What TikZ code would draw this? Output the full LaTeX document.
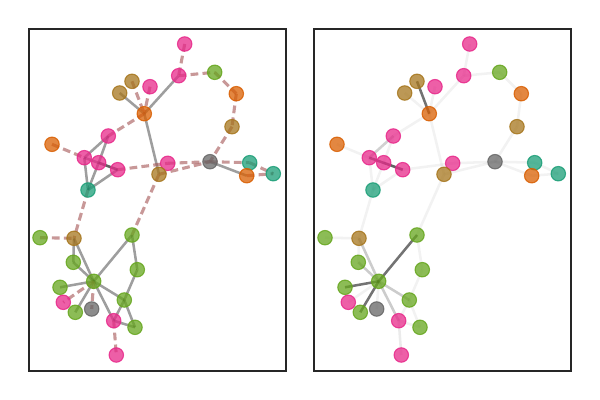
\documentclass[tikz,border=0pt]{standalone}
\usetikzlibrary{backgrounds}
\definecolor{dteal}{HTML}{1B9E77}
\definecolor{dorange}{HTML}{D95F02}
\definecolor{dpink}{HTML}{E7298A}
\definecolor{dgreen}{HTML}{66A61E}
\definecolor{dtan}{HTML}{A6761D}
\definecolor{dgray}{HTML}{666666}
\definecolor{bondred}{rgb}{0.65,0.35,0.35}
\tikzset{
  atom/.style={circle, inner sep=0pt, minimum size=0.36cm, line width=0.8pt,
    draw=#1, fill=#1, fill opacity=0.75, draw opacity=0.85},
  solidedge/.style={black, opacity=0.38, line width=1.8pt},
  dashedge/.style={bondred, opacity=0.62, line width=2.2pt, dash pattern=on 5.5pt off 3pt},
  weight/.style={black, opacity=#1, line width=1.8pt},
  panelbox/.style={draw=black!85, line width=1.8pt}
}
\begin{document}
\begin{tikzpicture}[x=0.025cm, y=-0.025cm]
    \useasboundingbox (0,0) rectangle (600,400);
    % The two panels.
        \draw[panelbox] (29,29) rectangle (286,371);
        \draw[panelbox] (314,29) rectangle (571,371);
    % Below nodes are the atoms, same layout in both panels.
    \foreach \p/\dx in {l/0, r/285} {
        \foreach \n/\x/\y/\c in {A/184.7/44/dpink, B/178.7/75.7/dpink, C/214.7/72.3/dgreen,
            D/236.3/93.7/dorange, E/232/126.7/dtan, F/210/161.7/dgray, G/249.7/162.7/dteal,
            H/246.7/175.7/dorange, I/273.3/173.7/dteal, J/132/81.3/dtan, K/119.7/93/dtan,
            L/150/86.7/dpink, M/144.3/113.7/dorange, N/108.3/136/dpink, O/52/144.3/dorange,
            P/84.3/157.7/dpink, Q/98.7/162.7/dpink, R/117.7/169.7/dpink, S/88/190/dteal,
            T/167.7/163.3/dpink, U/159/174.3/dtan, V/40/237.7/dgreen, W/74/238.3/dtan,
            X/132/235/dgreen, Y/73.3/262.3/dgreen, Z/93.7/281.3/dgreen, AA/137.3/269.7/dgreen,
            AB/60/287.3/dgreen, AC/63.3/302.3/dpink, AD/75.3/312.3/dgreen, AE/91.7/309/dgray,
            AF/124.3/300/dgreen, AG/113.7/320.7/dpink, AH/135/327.3/dgreen, AI/116.3/355/dpink}
            \node[atom=\c] (\p\n) at (\x+\dx, \y) {};
    }
    \begin{pgfonlayer}{background}
    % Left panel: bonds solid, added links dashed.
        \foreach \a/\b in {M/B, M/K, M/U, N/P, N/Q, Q/S, P/S, S/R, P/R, Q/R, F/H,
            W/Y, W/Z, Y/Z, X/Z, X/AA, AA/AF, Z/AB, Z/AD, Z/AF, Z/AG, AF/AG, AF/AH, AG/AH}
            \draw[solidedge] (l\a.center) -- (l\b.center);
        \foreach \a/\b in {A/B, B/C, C/D, D/E, E/F, F/G, G/I, H/I, J/M, L/M, M/N, O/P,
            R/T, T/F, U/F, U/X, S/W, V/W, Z/AC, Z/AE, AG/AI}
            \draw[dashedge] (l\a.center) -- (l\b.center);
    % Right panel: every edge, shaded by its weight.
        \foreach \a/\b/\w in {M/B/.05, M/K/.05, M/U/.05, N/P/.18, N/Q/.05, Q/S/.05, P/S/.05,
            S/R/.05, P/R/.55, Q/R/.15, F/H/.05, W/Y/.05, W/Z/.2, Y/Z/.2, X/Z/.55, X/AA/.05,
            AA/AF/.05, Z/AB/.55, Z/AD/.55, Z/AF/.2, Z/AG/.2, AF/AG/.05, AF/AH/.05, AG/AH/.05,
            A/B/.05, B/C/.05, C/D/.05, D/E/.05, E/F/.05, F/G/.05, G/I/.05, H/I/.05, J/M/.55,
            L/M/.05, M/N/.05, O/P/.05, R/T/.05, T/F/.05, U/F/.05, U/X/.05, S/W/.05, V/W/.05,
            Z/AC/.05, Z/AE/.05, AG/AI/.08}
            \draw[weight=\w] (r\a.center) -- (r\b.center);
    \end{pgfonlayer}
\end{tikzpicture}
\end{document}
